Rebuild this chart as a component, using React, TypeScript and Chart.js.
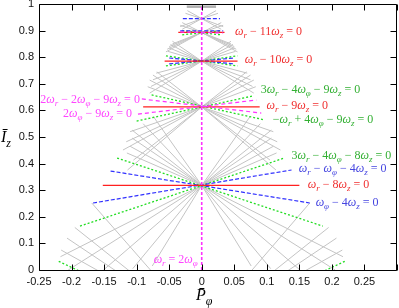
import React, { useEffect, useRef } from 'react';
import { Chart, registerables } from 'chart.js';

Chart.register(...registerables);

// ---- axis ticks ----
const xTickValues = [-0.25, -0.2, -0.15, -0.1, -0.05, 0, 0.05, 0.1, 0.15, 0.2, 0.25, 0.3];
const xTickLabels = ['-0.25', '-0.2', '-0.15', '-0.1', '-0.05', '0', '0.05', '0.1', '0.15', '0.2', '0.25', ''];
const yTickValues = [0, 0.1, 0.2, 0.3, 0.4, 0.5, 0.6, 0.7, 0.8, 0.9, 1];
const yTickLabels = ['0', '0.1', '0.2', '0.3', '0.4', '0.5', '0.6', '0.7', '0.8', '0.9', '1'];

// ---- resonance segments [x1, y1, x2, y2] ----
const graySegments: number[][] = [
  // fan below the plot (I_z ~ -0.22)
  [0, -0.22, -0.169, 0.252], [0, -0.22, 0.166, 0.252],
  [0, -0.22, -0.195, 0.16], [0, -0.22, 0.195, 0.16],
  [0, -0.22, -0.207, 0.12], [0, -0.22, 0.207, 0.12],
  [0, -0.22, -0.216, 0.075], [0, -0.22, 0.216, 0.075],
  // fan at 0.318, downward
  [0, 0.318, -0.217, 0.05], [0, 0.318, 0.217, 0.05],
  [0, 0.318, -0.205, 0], [0, 0.318, 0.205, 0],
  [0, 0.318, -0.151, 0], [0, 0.318, 0.151, 0],
  [0, 0.318, -0.106, 0.005], [0, 0.318, 0.106, 0.005],
  [0, 0.318, -0.076, 0.015], [0, 0.318, 0.076, 0.015],
  // fan at 0.318, upward
  [0, 0.318, -0.074, 0.576], [0, 0.318, 0.074, 0.576],
  [0, 0.318, -0.09, 0.55], [0, 0.318, 0.09, 0.55],
  [0, 0.318, -0.107, 0.526], [0, 0.318, 0.107, 0.526],
  [0, 0.318, -0.107, 0.496], [0, 0.318, 0.107, 0.496],
  [0, 0.318, -0.11, 0.465], [0, 0.318, 0.11, 0.465],
  [0, 0.318, -0.115, 0.44], [0, 0.318, 0.115, 0.44],
  // fan at 0.613, downward
  [0, 0.613, -0.11, 0.52], [0, 0.613, 0.11, 0.52],
  [0, 0.613, -0.116, 0.482], [0, 0.613, 0.116, 0.482],
  [0, 0.613, -0.121, 0.451], [0, 0.613, 0.121, 0.451],
  [0, 0.613, -0.105, 0.413], [0, 0.613, 0.105, 0.413],
  [0, 0.613, -0.114, 0.376], [0, 0.613, 0.114, 0.376],
  // fan at 0.613, upward
  [0, 0.613, -0.069, 0.745], [0, 0.613, 0.069, 0.745],
  [0, 0.613, -0.075, 0.733], [0, 0.613, 0.075, 0.733],
  [0, 0.613, -0.08, 0.714], [0, 0.613, 0.08, 0.714],
  [0, 0.613, -0.083, 0.689], [0, 0.613, 0.083, 0.689],
  // fan at 0.785, downward
  [0, 0.785, -0.08, 0.665], [0, 0.785, 0.08, 0.665],
  [0, 0.785, -0.078, 0.69], [0, 0.785, 0.078, 0.69],
  [0, 0.785, -0.075, 0.715], [0, 0.785, 0.075, 0.715],
  [0, 0.785, -0.07, 0.74], [0, 0.785, 0.07, 0.74],
  // fan at 0.785, upward
  [0, 0.785, -0.045, 0.86], [0, 0.785, 0.045, 0.86],
  [0, 0.785, -0.048, 0.848], [0, 0.785, 0.048, 0.848],
  [0, 0.785, -0.05, 0.835], [0, 0.785, 0.05, 0.835],
  [0, 0.785, -0.052, 0.822], [0, 0.785, 0.052, 0.822],
  // fan at 0.893
  [0, 0.893, -0.05, 0.84], [0, 0.893, 0.05, 0.84],
  [0, 0.893, -0.053, 0.83], [0, 0.893, 0.053, 0.83],
  [0, 0.893, -0.055, 0.82], [0, 0.893, 0.055, 0.82],
  [0, 0.893, -0.045, 0.85], [0, 0.893, 0.045, 0.85],
  [0, 0.893, -0.03, 0.93], [0, 0.893, 0.03, 0.93],
  [0, 0.893, -0.033, 0.92], [0, 0.893, 0.033, 0.92],
  // fan at 0.945
  [0, 0.945, -0.03, 0.905], [0, 0.945, 0.03, 0.905],
  [0, 0.945, -0.033, 0.915], [0, 0.945, 0.033, 0.915],
  [0, 0.945, -0.022, 0.975], [0, 0.945, 0.022, 0.975],
  [0, 0.945, -0.025, 0.965], [0, 0.945, 0.025, 0.965],
];
const grayTopSegments: number[][] = [[-0.023, 0.99, 0.022, 0.99]];

const redSegments: number[][] = [
  [-0.152, 0.318, 0.15, 0.318],
  [-0.09, 0.613, 0.089, 0.613],
  [-0.057, 0.785, 0.055, 0.785],
  [-0.036, 0.893, 0.035, 0.893],
];
const blueSegments: number[][] = [
  [-0.167, 0.252, 0.138, 0.376],
  [-0.14, 0.372, 0.166, 0.252],
  [-0.05, 0.775, 0.05, 0.797],
  [-0.05, 0.797, 0.05, 0.775],
  [-0.033, 0.899, 0.033, 0.899],
  [-0.029, 0.945, 0.028, 0.945],
];
const greenSegments: number[][] = [
  [-0.187, 0.165, 0.127, 0.421],
  [-0.13, 0.421, 0.186, 0.165],
  [0, -0.22, -0.221, 0.034],
  [0, -0.22, 0.221, 0.034],
  [-0.1, 0.56, 0.078, 0.654],
  [-0.077, 0.658, 0.097, 0.564],
  [-0.055, 0.767, 0.055, 0.805],
  [-0.055, 0.805, 0.055, 0.767],
  [-0.03, 0.884, 0.03, 0.9],
  [-0.03, 0.9, 0.03, 0.884],
];
const magentaSegments: number[][] = [
  [-0.092, 0.643, 0.0915, 0.59],
  [-0.098, 0.586, 0.084, 0.639],
  [-0.033, 0.895, 0.033, 0.891],
];
const magentaVertical: number[][] = [[0, 0, 0, 1]];

// ---- labels ----
const labelTexts = [
  'ω_r − 11ω_z = 0', 'ω_r − 10ω_z = 0', '3ω_r − 4ω_φ − 9ω_z = 0', 'ω_r − 9ω_z = 0',
  '−ω_r + 4ω_φ − 9ω_z = 0', '3ω_r − 4ω_φ − 8ω_z = 0', 'ω_r − ω_φ − 4ω_z = 0', 'ω_r − 8ω_z = 0',
  'ω_φ − 4ω_z = 0', '2ω_r − 2ω_φ − 9ω_z = 0', '2ω_φ − 9ω_z = 0', 'ω_r = 2ω_φ',
];
const labelX = [0.051, 0.066, 0.0905, 0.0997, 0.109, 0.138, 0.149, 0.163, 0.175, -0.095, -0.107, -0.006];
const labelY = [0.898, 0.793, 0.68, 0.62, 0.568, 0.432, 0.383, 0.323, 0.256, 0.643, 0.59, 0.041];
const labelColors = ['red', 'red', 'green', 'red', 'green', 'green', 'blue', 'red', 'blue', 'magenta', 'magenta', 'magenta'];
const labelAlign = ['left', 'left', 'left', 'left', 'left', 'left', 'left', 'left', 'left', 'right', 'right', 'right'];

const COLORS: Record<string, string> = {
  red: '#f03030',
  green: '#33b033',
  blue: '#4545e0',
  magenta: '#ff45ff',
};

function segData(segs: number[][]) {
  const out: any[] = [];
  segs.forEach((s) => {
    out.push({ x: s[0], y: s[1] }, { x: s[2], y: s[3] }, { x: s[2], y: null });
  });
  return out;
}

const SERIF = '"Liberation Serif", "DejaVu Serif", serif';

function drawMath(ctx: CanvasRenderingContext2D, s: string, x: number, y: number, color: string, align: string, size: number) {
  type Run = { t: string; sub: boolean; it: boolean; w?: number };
  const runs: Run[] = [];
  for (let i = 0; i < s.length; i++) {
    const c = s[i];
    if (c === '_') {
      runs.push({ t: s[i + 1], sub: true, it: true });
      i++;
    } else if (c === '\u0304') {
      runs[runs.length - 1].t += c;
    } else {
      const it = /[A-Za-zωφĪ]/.test(c);
      const last = runs[runs.length - 1];
      if (last && !last.sub && last.it === it) last.t += c;
      else runs.push({ t: c, sub: false, it });
    }
  }
  const fontFor = (r: Run) => `${r.it ? 'italic ' : ''}${r.sub ? Math.round(size * 0.72) : size}px ${SERIF}`;
  let w = 0;
  runs.forEach((r) => {
    ctx.font = fontFor(r);
    r.w = ctx.measureText(r.t).width;
    w += r.w;
  });
  let cx = align === 'right' ? x - w : align === 'center' ? x - w / 2 : x;
  const base = y + size * 0.33;
  ctx.fillStyle = color;
  ctx.textBaseline = 'alphabetic';
  ctx.textAlign = 'left';
  runs.forEach((r) => {
    ctx.font = fontFor(r);
    ctx.fillText(r.t, cx, base + (r.sub ? size * 0.27 : 0));
    cx += r.w || 0;
  });
}

const overlayPlugin = {
  id: 'overlay',
  afterDatasetsDraw(chart: any) {
    const { ctx, chartArea: a, scales } = chart;
    const xs = scales.x;
    const ys = scales.y;
    ctx.save();
    labelTexts.forEach((t, i) => {
      drawMath(ctx, t, xs.getPixelForValue(labelX[i]), ys.getPixelForValue(labelY[i]), COLORS[labelColors[i]], labelAlign[i], 12);
    });
    const L = Math.round(a.left) + 0.5;
    const R = Math.round(a.right) - 0.5;
    const T = Math.round(a.top) + 0.5;
    const B = Math.round(a.bottom) + 0.5;
    ctx.strokeStyle = '#000';
    ctx.lineWidth = 1;
    ctx.setLineDash([]);
    ctx.beginPath();
    ctx.rect(L, T, R - L, B - T);
    xTickValues.forEach((v) => {
      const px = Math.round(xs.getPixelForValue(v)) + 0.5;
      ctx.moveTo(px, B);
      ctx.lineTo(px, B - 6);
      ctx.moveTo(px, T);
      ctx.lineTo(px, T + 6);
    });
    yTickValues.forEach((v) => {
      const py = Math.round(ys.getPixelForValue(v)) + 0.5;
      ctx.moveTo(L, py);
      ctx.lineTo(L + 6, py);
      ctx.moveTo(R, py);
      ctx.lineTo(R - 6, py);
    });
    ctx.stroke();
    drawMath(ctx, 'Ī_z', 1, 137, '#000', 'left', 16);
    drawMath(ctx, 'P\u0304_φ', 196, 295, '#000', 'left', 16);
    ctx.restore();
  },
};

export default function App() {
  const ref = useRef<HTMLCanvasElement | null>(null);
  useEffect(() => {
    document.body.style.margin = '0';
    const canvas = ref.current;
    if (!canvas) return;
    const line = (data: any[], color: string, width: number, dash: number[]) => ({
      data,
      showLine: true,
      borderColor: color,
      backgroundColor: color,
      borderWidth: width,
      borderDash: dash,
      pointRadius: 0,
      pointHoverRadius: 0,
      fill: false,
      tension: 0,
      spanGaps: false,
    });
    const chart = new Chart(canvas, {
      type: 'scatter',
      data: {
        datasets: [
          line(segData(magentaVertical), '#ff30ff', 1.6, [3, 2]),
          line(segData(magentaSegments), '#ff30ff', 1.2, [4, 3]),
          line(segData(redSegments), '#ff2020', 1.3, []),
          line(segData(blueSegments), '#3030ff', 1.2, [4, 2]),
          line(segData(greenSegments), '#22dd22', 1.3, [2, 2]),
          line(segData(grayTopSegments), '#b0b0b0', 2.5, []),
          line(segData(graySegments), '#c4c4c4', 1, []),
        ] as any,
      },
      options: {
        responsive: false,
        devicePixelRatio: 1,
        animation: false,
        events: [],
        layout: { padding: { top: 4, right: 2, left: 0, bottom: 0 } },
        plugins: { legend: { display: false }, tooltip: { enabled: false } },
        scales: {
          x: {
            type: 'linear',
            min: -0.25,
            max: 0.3,
            afterBuildTicks: (s: any) => {
              s.ticks = xTickValues.map((v) => ({ value: v }));
            },
            afterFit: (s: any) => {
              s.height = 38;
              s.paddingLeft = 0;
              s.paddingRight = 0;
            },
            ticks: {
              autoSkip: false,
              maxRotation: 0,
              padding: 5,
              color: '#111',
              font: { family: '"Liberation Sans", Arial, sans-serif', size: 11 },
              callback: (_v: any, i: number) => xTickLabels[i],
            },
            grid: { display: false, drawTicks: false },
            border: { display: false },
          },
          y: {
            type: 'linear',
            min: 0,
            max: 1,
            afterBuildTicks: (s: any) => {
              s.ticks = yTickValues.map((v) => ({ value: v }));
            },
            afterFit: (s: any) => {
              s.width = 39;
              s.paddingTop = 0;
              s.paddingBottom = 0;
            },
            ticks: {
              autoSkip: false,
              padding: 5,
              color: '#111',
              font: { family: '"Liberation Sans", Arial, sans-serif', size: 11 },
              callback: (_v: any, i: number) => yTickLabels[i],
            },
            grid: { display: false, drawTicks: false },
            border: { display: false },
          },
        },
      } as any,
      plugins: [overlayPlugin],
    });
    return () => chart.destroy();
  }, []);
  return (
    <div style={{ position: 'fixed', left: 0, top: 0, width: 399, height: 308, background: '#fff' }}>
      <canvas ref={ref} width={399} height={308} style={{ display: 'block' }} />
    </div>
  );
}
